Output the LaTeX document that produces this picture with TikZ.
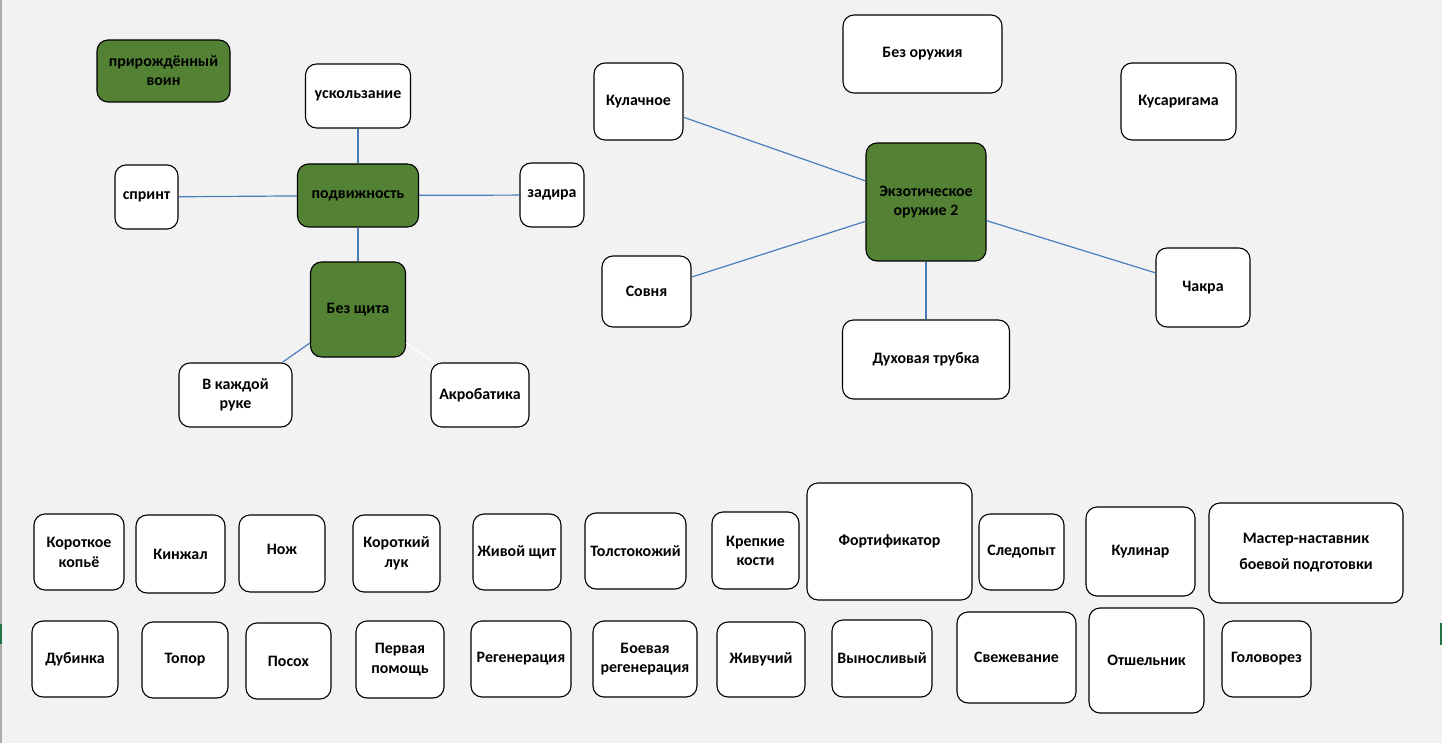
\documentclass[tikz,border=0pt]{standalone}
\usepackage{fontspec}
\setmainfont{Carlito}
\definecolor{bgc}{RGB}{242,242,242}
\definecolor{grn}{RGB}{84,130,53}
\definecolor{lnk}{RGB}{74,126,187}
\definecolor{edgegray}{RGB}{170,170,170}
\definecolor{xlgreen}{RGB}{33,115,70}
\tikzset{
  box/.style={draw=black, line width=1.1pt, rounded corners=11pt, fill=white, inner sep=0pt,
    align=center, font=\fontsize{15.9}{19}\selectfont\bfseries},
  gbox/.style={box, fill=grn},
  link/.style={draw=lnk, line width=1.2pt},
  wlink/.style={draw=white, line width=1.2pt},
}
\newcommand{\bx}[7][box]{\node[#1, minimum width=#5pt, minimum height=#6pt] (#2) at (#3,#4) {#7};}
\newcommand{\up}[2]{\raisebox{#1}[\height][\depth]{#2}}
\begin{document}
\begin{tikzpicture}[x=1pt,y=-1pt]
\fill[bgc] (0,0) rectangle (1442,743);
\useasboundingbox (0,0) rectangle (1442,743);
\fill[edgegray] (0,0) rectangle (1.5,743);
\fill[fill=xlgreen] (0,624) rectangle (1.8,644);
\fill[fill=xlgreen] (1440.2,623) rectangle (1442,645);

% left group
\bx[gbox]{born}{163.5}{71}{133}{62}{прирождённый\\воин}
\bx{usk}{358}{96}{105}{64}{ускользание}
\bx{sprint}{146.5}{197}{63}{64}{спринт}
\bx[gbox]{podv}{358}{195.5}{121}{63}{подвижность}
\bx{zadira}{552}{195}{64}{64}{задира}
\bx[gbox]{bezsh}{358}{309.5}{95}{95}{Без щита}
\bx{vkazh}{235.5}{395}{113}{64}{В каждой\\руке}
\bx{akro}{480}{395}{98}{64}{Акробатика}

% right group
\bx{bezor}{922.5}{54}{159}{78}{Без оружия}
\bx{kulach}{638.5}{101.5}{89}{77}{Кулачное}
\bx{kusar}{1178.5}{101.5}{115}{77}{Кусаригама}
\bx[gbox]{exot}{926}{202}{120}{118}{Экзотическое\\оружие 2}
\bx{sovnya}{646.5}{291.5}{89}{71}{Совня}
\bx{chakra}{1203}{287.5}{94}{79}{Чакра}
\bx{duh}{926}{359.5}{167}{79}{Духовая трубка}

% row 1
\bx{kk}{79}{552}{90}{76}{Короткое\\[1pt]копьё}
\bx{kinzh}{180.5}{554}{89}{78}{Кинжал}
\bx{nozh}{282}{553.5}{86}{77}{\up{4pt}{Нож}}
\bx{klk}{396.5}{553.5}{87}{77}{Короткий\\[1pt]лук}
\bx{zhsh}{517}{552}{88}{76}{Живой щит}
\bx{tolst}{635.5}{551}{101}{76}{Толстокожий}
\bx{krep}{755.5}{550.5}{87}{77}{Крепкие\\кости}
\bx{fort}{889.5}{541.5}{165}{117}{Фортификатор}
\bx{sled}{1021.5}{552}{85}{76}{Следопыт}
\bx{kulin}{1140.5}{551.5}{109}{89}{Кулинар}
\bx{master}{1306}{553}{194}{100}{Мастер-наставник\\[7pt]боевой подготовки}

% row 2
\bx{dub}{75}{659}{86}{76}{Дубинка}
\bx{topor}{185}{660}{86}{76}{Топор}
\bx{posoh}{288.5}{661}{85}{76}{Посох}
\bx{perv}{400}{659.5}{88}{77}{Первая\\[1pt]помощь}
\bx{regen}{521}{659}{100}{76}{Регенерация}
\bx{boev}{645}{659}{104}{76}{Боевая\\регенерация}
\bx{zhiv}{761}{659.5}{88}{75}{Живучий}
\bx{vyn}{882}{658.5}{100}{77}{Выносливый}
\bx{svezh}{1016.5}{657.5}{119}{91}{Свежевание}
\bx{otsh}{1146.5}{660.5}{115}{105}{Отшельник}
\bx{golov}{1266.5}{659}{89}{76}{Головорез}

% connectors
\draw[link] (usk) -- (podv);
\draw[link] (sprint) -- (podv);
\draw[link] (podv) -- (zadira);
\draw[link] (podv) -- (bezsh);
\draw[link] (bezsh) -- (vkazh);
\draw[wlink] (bezsh) -- (akro);
\draw[link] (kulach) -- (exot);
\draw[link] (sovnya) -- (exot);
\draw[link] (exot) -- (chakra);
\draw[link] (exot) -- (duh);
\end{tikzpicture}
\end{document}
